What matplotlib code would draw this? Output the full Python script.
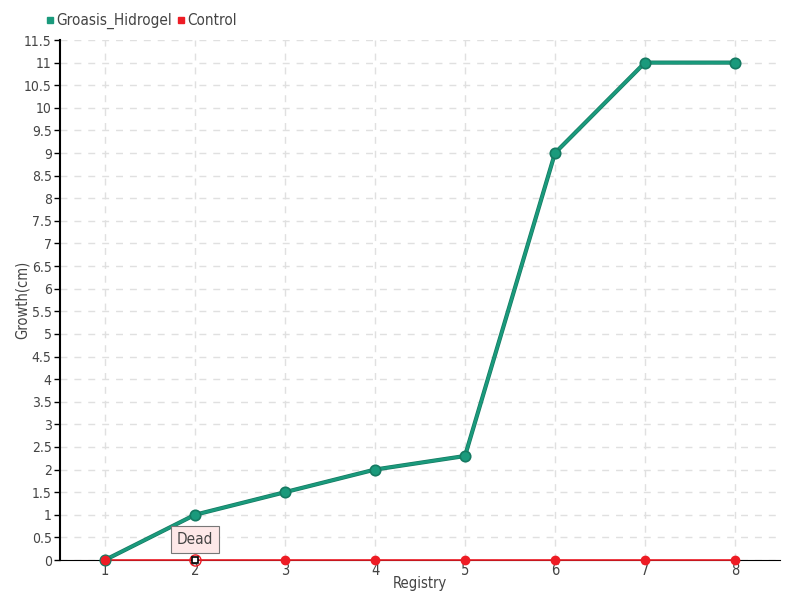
import matplotlib
matplotlib.use("Agg")
import matplotlib.pyplot as plt
from matplotlib import font_manager
from matplotlib.lines import Line2D

registry = [1, 2, 3, 4, 5, 6, 7, 8]
groasis = [0, 1, 1.5, 2, 2.3, 9, 11, 11]
control = [0, 0, 0, 0, 0, 0, 0, 0]
dead_index = 1
y_ticks = [i * 0.5 for i in range(24)]
y_labels = ["0", "0.5", "1", "1.5", "2", "2.5", "3", "3.5", "4", "4.5", "5", "5.5", "6", "6.5",
            "7", "7.5", "8", "8.5", "9", "9.5", "10", "10.5", "11", "11.5"]

cond = [f for f in font_manager.fontManager.ttflist if f.stretch in ("condensed", "semi-condensed", 700, 600) or "Condensed" in f.fname or "Narrow" in f.fname]
fam = cond[0].name if cond else "DejaVu Sans"
plt.rcParams["font.family"] = [fam, "DejaVu Sans"]
plt.rcParams["font.stretch"] = "condensed"

green = "#1a9a7c"
green_dark = "#157a62"
red = "#ee1c25"
txt = "#444444"

fig = plt.figure(figsize=(8, 6), dpi=100)
ax = fig.add_axes([60 / 800, 40 / 600, 720 / 800, 520 / 600])

ax.plot(registry, control, color=red, lw=1.2, zorder=3, clip_on=False)
mk = [i for i in range(len(registry)) if i != dead_index]
ax.plot([registry[i] for i in mk], [control[i] for i in mk], ls="none", marker="o",
        ms=6, color=red, markeredgecolor=red, zorder=8, clip_on=False)
ax.plot([registry[dead_index]], [control[dead_index]], ls="none", marker="s", ms=5,
        markerfacecolor="white", markeredgecolor="black", markeredgewidth=1.2, zorder=9,
        clip_on=False)
ax.plot([registry[dead_index]], [control[dead_index]], ls="none", marker="o", ms=8,
        markerfacecolor="none", markeredgecolor=red, markeredgewidth=1, zorder=8, clip_on=False)

ax.plot(registry, groasis, color=green_dark, lw=3, zorder=5, solid_capstyle="round", clip_on=False)
ax.plot(registry, groasis, color=green, lw=2, zorder=6, solid_capstyle="round", clip_on=False)
ax.plot(registry, groasis, ls="none", marker="o", ms=7.5, color=green,
        markeredgecolor=green_dark, markeredgewidth=1.2, zorder=7, clip_on=False)

ax.annotate("Dead", xy=(registry[dead_index], control[dead_index]), xytext=(0, 15),
            textcoords="offset points", ha="center", va="center", fontsize=11, color=txt,
            bbox=dict(boxstyle="square,pad=0.4", fc="#fde8e8", ec="#777777", lw=0.8),
            zorder=10)

ax.set_xlim(0.5, 8.5)
ax.set_ylim(0, 11.5)
ax.set_xticks(registry)
ax.set_xticklabels([str(r) for r in registry], fontsize=10.5, color=txt)
ax.set_yticks(y_ticks)
ax.set_yticklabels(y_labels, fontsize=10, color=txt)
ax.tick_params(axis="y", length=4, width=1, color="black", pad=2)
ax.tick_params(axis="x", length=0, pad=2)
ax.grid(True, ls=(0, (5, 5)), color="#e0e0e0", lw=1)
ax.set_axisbelow(True)
for s in ["top", "right"]:
    ax.spines[s].set_visible(False)
ax.spines["left"].set_color("black")
ax.spines["left"].set_linewidth(1.5)
ax.spines["bottom"].set_color("black")
ax.spines["bottom"].set_linewidth(0.8)

ax.set_xlabel("Registry", fontsize=10.5, color=txt, labelpad=-1)
ax.set_ylabel("Growth(cm)", fontsize=10.5, color=txt)
ax.yaxis.set_label_coords(-30 / 720, 0.5)

handles = [Line2D([], [], ls="none", marker="s", ms=5, color=green),
           Line2D([], [], ls="none", marker="s", ms=5, color=red)]
fig.legend(handles, ["Groasis_Hidrogel", "Control"], loc="upper left",
           bbox_to_anchor=(46 / 800, 1 - 13 / 600), ncol=2, frameon=False, fontsize=11,
           handlelength=0.5, handletextpad=0.2, columnspacing=0.3, labelcolor=txt,
           borderaxespad=0, borderpad=0)

fig.savefig("out.png", dpi=100)
